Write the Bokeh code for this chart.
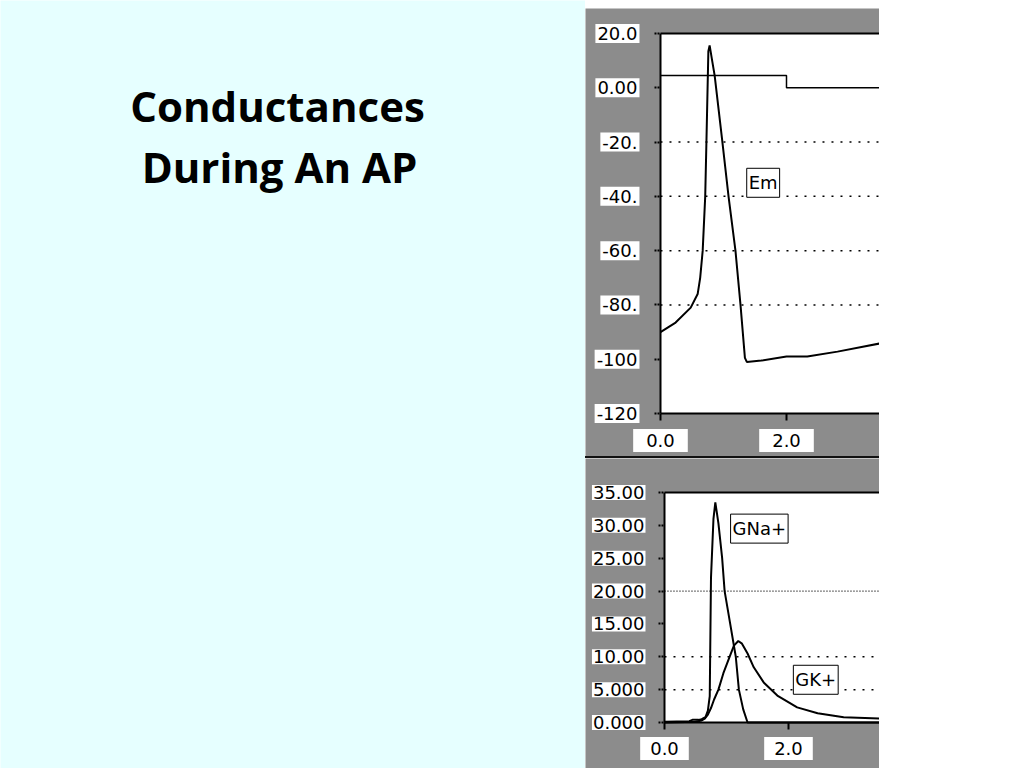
from bokeh.plotting import figure
from bokeh.models import (Range1d, LinearAxis, FixedTicker, Label, Div, Spacer)
from bokeh.layouts import row, column
from bokeh.core.properties import value
from bokeh.embed import file_html
from bokeh.resources import INLINE

# ---------------- data ----------------
title_lines = ["Conductances", "During An AP"]

# membrane potential (top panel)
em_t = [0.0, 0.24, 0.48, 0.59, 0.63, 0.67, 0.71, 0.73, 0.76, 0.78, 0.82, 0.86,
        0.98, 1.08, 1.19, 1.27, 1.34, 1.37, 1.60, 2.00, 2.33, 2.81, 3.48]
em_v = [-90.0, -86.5, -81.0, -76.0, -70.0, -60.0, -40.0, -19.0, 13.5, 15.6, 10.0, 4.5,
        -19.5, -40.0, -60.0, -80.0, -99.5, -101.0, -100.5, -99.0, -99.0, -97.2, -94.2]
# stimulus trace
stim_t = [0.0, 2.0, 2.0, 3.48]
stim_v = [4.5, 4.5, 0.0, 0.0]

top_y_ticks = [-120, -100, -80, -60, -40, -20, 0, 20]
top_y_labels = ["-120", "-100", "-80.", "-60.", "-40.", "-20.", "0.00", "20.0"]
top_grid = [-80, -60, -40, -20]

# conductances (bottom panel)
gna_t = [0.0, 0.40, 0.45, 0.55, 0.60, 0.66, 0.70, 0.73, 0.75, 0.79, 0.82, 0.87,
         0.93, 0.97, 1.06, 1.15, 1.20, 1.27, 1.34, 3.47]
gna_v = [0.1, 0.2, 0.4, 0.4, 0.5, 0.8, 1.8, 4.0, 22.0, 31.0, 33.5, 30.3,
         25.0, 20.0, 15.0, 10.0, 5.0, 2.0, 0.0, 0.0]
gk_t = [0.0, 0.50, 0.60, 0.65, 0.70, 0.75, 0.80, 0.87, 0.95, 1.05, 1.12, 1.19,
        1.25, 1.34, 1.44, 1.60, 1.82, 2.14, 2.47, 2.89, 3.47]
gk_v = [0.0, 0.1, 0.3, 0.6, 1.2, 2.2, 3.5, 5.0, 7.5, 10.0, 11.7, 12.4,
        12.0, 10.5, 8.4, 6.1, 4.1, 2.3, 1.4, 0.8, 0.6]

bot_y_ticks = [0, 5, 10, 15, 20, 25, 30, 35]
bot_y_labels = ["0.000", "5.000", "10.00", "15.00", "20.00", "25.00", "30.00", "35.00"]
bot_grid_sparse = [5, 10]
bot_grid_dense = [20]

x_ticks = [0.0, 2.0]
x_labels = ["0.0", "2.0"]

# ---------------- styling / layout constants ----------------
CYAN = "#e6ffff"
HATCH = "#8c8c8c"
LFONT = "DejaVu Sans"
LSIZE = "18px"

# visible x-extent of each panel (the window is cut off on the right)
TOP_X_END = 3.476
BOT_X_END = 3.468


def pad(h, v):
    return dict(left=h, right=h, top=v, bottom=v)


def make_panel(height, x_range, y_range, y_ticks, x_end):
    p = figure(width=294, height=height, x_range=x_range, y_range=y_range,
               x_axis_location=None, y_axis_location=None, min_border=0,
               toolbar_location=None, output_backend="svg")
    p.background_fill_color = HATCH
    p.border_fill_color = HATCH
    p.outline_line_color = None
    p.grid.visible = False
    y_lo, y_hi = min(y_ticks), max(y_ticks)
    # white plotting area
    p.quad(left=[0.0], right=[x_end], bottom=[y_lo], top=[y_hi],
           fill_color="white", line_color=None)
    yax = LinearAxis(fixed_location=0.0, bounds=(y_lo, y_hi),
                     ticker=FixedTicker(ticks=y_ticks))
    xax = LinearAxis(fixed_location=y_lo, bounds=(0.0, x_end),
                     ticker=FixedTicker(ticks=x_ticks))
    tax = LinearAxis(fixed_location=y_hi, bounds=(0.0, x_end),
                     ticker=FixedTicker(ticks=[]))
    for ax in (yax, xax, tax):
        ax.axis_line_color = "black"
        ax.axis_line_width = 2
        ax.major_tick_line_color = "black"
        ax.major_tick_line_width = 2
        ax.major_tick_in = 0
        ax.minor_tick_line_color = None
        ax.major_label_text_color = None
        ax.axis_label = None
    yax.major_tick_out = 6
    yax.major_tick_line_dash = "2 1"
    xax.major_tick_out = 7
    p.add_layout(yax, "left")
    p.add_layout(xax, "below")
    p.add_layout(tax, "above")
    return p


def tick_labels(p, yt, yl, xt, xl, ybottom, y_xoff, x_yoff, ypad, xpad):
    for yv, txt in zip(yt, yl):
        p.add_layout(Label(x=0.0, y=yv, text=txt, x_offset=y_xoff,
                           text_align="right", text_baseline="middle",
                           text_font=LFONT, text_font_size=LSIZE,
                           text_color="black", background_fill_color="white",
                           padding=ypad))
    for xv, txt in zip(xt, xl):
        p.add_layout(Label(x=xv, y=ybottom, text=txt, y_offset=x_yoff,
                           text_align="center", text_baseline="middle",
                           text_font=LFONT, text_font_size=LSIZE,
                           text_color="black", background_fill_color="white",
                           padding=xpad))


def box_label(p, x, y, text):
    p.add_layout(Label(x=x, y=y, text=text, text_align="center", text_baseline="middle",
                       text_font=LFONT, text_font_size=LSIZE, text_color="black",
                       background_fill_color="white", border_line_color="black",
                       border_line_width=1, padding=pad(2, 4)))


# ---------------- title panel ----------------
tp = figure(width=585, height=768, x_range=Range1d(0, 585), y_range=Range1d(0, 768),
            x_axis_type=None, y_axis_type=None, min_border=0,
            toolbar_location=None, output_backend="svg")
tp.background_fill_color = CYAN
tp.border_fill_color = CYAN
tp.outline_line_color = None
tp.grid.visible = False
tp.text(x=[277, 279], y=[663, 602], text=title_lines,
        text_font=value("Open Sans"), text_font_style="bold", text_font_size="42px",
        text_align="center", text_baseline="alphabetic", text_color="black")

# ---------------- top panel (Em) ----------------
p1 = make_panel(448, Range1d(-1.190, TOP_X_END), Range1d(-135.84, 29.21),
                top_y_ticks, TOP_X_END)
p1.segment(x0=[0.0] * len(top_grid), x1=[TOP_X_END] * len(top_grid),
           y0=top_grid, y1=top_grid, line_color="black", line_width=1.5, line_dash="2 7")
p1.line(stim_t, stim_v, line_color="black", line_width=1.5)
p1.line(em_t, em_v, line_color="black", line_width=2)
tick_labels(p1, top_y_ticks, top_y_labels, x_ticks, x_labels, -120, -21,
            -27, pad(2, 3), pad(13, 5))
box_label(p1, 1.63, -35, "Em")

sep = Div(width=294, height=2, margin=0, styles={"background-color": "#111111"})

# ---------------- bottom panel (conductances) ----------------
p2 = make_panel(310, Range1d(-1.274, BOT_X_END), Range1d(-7.0, 40.17),
                bot_y_ticks, BOT_X_END)
p2.segment(x0=[0.0] * len(bot_grid_sparse), x1=[BOT_X_END] * len(bot_grid_sparse),
           y0=bot_grid_sparse, y1=bot_grid_sparse, line_color="black",
           line_width=1.5, line_dash="2 7")
p2.segment(x0=[0.0] * len(bot_grid_dense), x1=[BOT_X_END] * len(bot_grid_dense),
           y0=bot_grid_dense, y1=bot_grid_dense, line_color="black",
           line_width=1.2, line_dash="1 2")
p2.line(gna_t, gna_v, line_color="black", line_width=2)
p2.line(gk_t, gk_v, line_color="black", line_width=2)
tick_labels(p2, bot_y_ticks, bot_y_labels, x_ticks, x_labels, 0, -19,
            -26, pad(1, 1), pad(10, 5))
box_label(p2, 1.53, 29.5, "GNa+")
box_label(p2, 2.44, 6.5, "GK+")

right = column(Spacer(width=294, height=8, margin=0), p1, sep, p2, spacing=0)
layout = row(tp, right, spacing=0)

html = file_html(layout, INLINE)
html = html.replace("<body>", '<body style="background-color:%s;">' % CYAN, 1)
open("out.html", "w").write(html)
